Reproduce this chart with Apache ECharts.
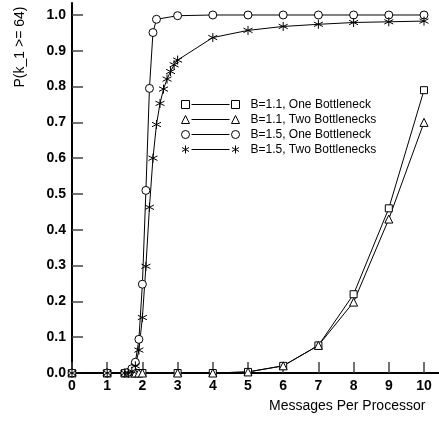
<!DOCTYPE html>
<html>
<head>
<meta charset="utf-8">
<script src="https://cdn.jsdelivr.net/npm/echarts@6/dist/echarts.min.js"></script>
<style>
html,body{margin:0;padding:0;background:#fff;}
#c{width:439px;height:421px;}
</style>
</head>
<body>
<div id="c"></div>
<script>
// ---- data ----
var xTickLabels = [0,1,2,3,4,5,6,7,8,9,10];
var yTickLabels = [0,0.1,0.2,0.3,0.4,0.5,0.6,0.7,0.8,0.9,1.0];

var xB11 = [0,1,1.5,1.7,1.8,1.9,2,3,4,5,6,7,8,9,10];
var yB11One = [0,0,0,0,0,0,0,0,0,0.003,0.02,0.077,0.22,0.46,0.79];
var yB11Two = [0,0,0,0,0,0,0,0,0,0.003,0.02,0.077,0.198,0.43,0.70];

var xB15One = [0,1,1.5,1.6,1.7,1.8,1.9,2.0,2.1,2.2,2.3,2.4,3,4,5,6,7,8,9,10];
var yB15One = [0,0,0,0.002,0.012,0.03,0.094,0.248,0.51,0.795,0.951,0.988,0.998,1.0,1.0,1.0,1.0,1.0,1.0,1.0];

var xB15Two = [0,1,1.5,1.6,1.7,1.8,1.9,2.0,2.1,2.2,2.3,2.4,2.5,2.6,2.7,2.8,2.9,3.0,4,5,6,7,8,9,10];
var yB15Two = [0,0,0,0,0.005,0.02,0.064,0.155,0.298,0.463,0.60,0.694,0.753,0.793,0.821,0.842,0.861,0.874,0.937,0.957,0.968,0.974,0.979,0.981,0.983];

var seriesNames = ['B=1.1, One Bottleneck','B=1.1, Two Bottlenecks','B=1.5, One Bottleneck','B=1.5, Two Bottlenecks'];

function pairs(xs, ys){ return xs.map(function(x,i){ return [x, ys[i]]; }); }

var asteriskSym = 'path://M0,-10L0,10M-8.66,-5L8.66,5M-8.66,5L8.66,-5';

// legend icons: symbol —— symbol
var legendIcons = [
  'path://M0,0L8,0L8,8L0,8ZM10,4L48,4M50,0L58,0L58,8L50,8Z',
  'path://M4,0L8,8L0,8ZM10,4L48,4M54,0L58,8L50,8Z',
  'path://M0,4A4,4 0 1 1 8,4A4,4 0 1 1 0,4ZM10,4L48,4M50,4A4,4 0 1 1 58,4A4,4 0 1 1 50,4Z',
  'path://M4,0L4,8M0.5,2L7.5,6M0.5,6L7.5,2M10,4L48,4M54,0L54,8M50.5,2L57.5,6M50.5,6L57.5,2M0,4L0,4.01M58,4L58,4.01'
];

var symbols = ['rect','triangle','circle', asteriskSym];
var symSizes = [7,8,8,9];
var fills = ['#fff','#fff','#fff','#000'];
var datas = [pairs(xB11,yB11One), pairs(xB11,yB11Two), pairs(xB15One,yB15One), pairs(xB15Two,yB15Two)];

var chart = echarts.init(document.getElementById('c'), null, {renderer:'canvas'});

var series = seriesNames.map(function(n,i){
  return {
    name: n,
    type: 'line',
    data: datas[i],
    symbol: symbols[i],
    symbolSize: symSizes[i],
    showAllSymbol: true,
    clip: false,
    animation: false,
    lineStyle: {color:'#000', width:1},
    itemStyle: {color:fills[i], borderColor:'#000', borderWidth:1}
  };
});

var font = '"Liberation Sans", Arial, Helvetica, sans-serif';

chart.setOption({
  backgroundColor: '#fff',
  animation: false,
  grid: {left:72, right:0, top:3, bottom:48, containLabel:false},
  xAxis: {
    type:'value', min:0, max:10.426, interval:1,
    axisLine:{show:true, onZero:false, lineStyle:{color:'#000', width:2}},
    axisTick:{show:true, inside:true, length:11, lineStyle:{color:'#444', width:1.5}, customValues:xTickLabels},
    axisLabel:{show:true, margin:6, color:'#000', fontFamily:font, fontWeight:'bold', fontSize:14, customValues:xTickLabels,
      formatter:function(v){return String(v);}},
    splitLine:{show:false}
  },
  yAxis: {
    type:'value', min:0, max:1.0335, interval:0.1,
    axisLine:{show:true, onZero:false, lineStyle:{color:'#000', width:2}},
    axisTick:{show:true, inside:true, length:11, lineStyle:{color:'#444', width:1.5}, customValues:yTickLabels},
    axisLabel:{show:true, margin:6, color:'#000', fontFamily:font, fontWeight:'bold', fontSize:14, customValues:yTickLabels,
      formatter:function(v){return v.toFixed(1);}},
    splitLine:{show:false}
  },
  legend: {
    orient:'vertical', left:181, top:97, padding:0, itemGap:0,
    itemWidth:58, itemHeight:8,
    textStyle:{fontFamily:font, fontSize:12, color:'#000', lineHeight:15, padding:[0,0,0,6]},
    data: seriesNames.map(function(n,i){
      return {name:n, icon:legendIcons[i], itemStyle:{color:'rgba(0,0,0,0)', borderColor:'#000', borderWidth:1}};
    }),
    selectedMode:false
  },
  graphic: [
    {type:'text', left:269, top:399, style:{text:'Messages Per Processor', font:'14px ' + font, fill:'#000'}},
    {type:'text', x:20, y:47, rotation:Math.PI/2, style:{text:'P(k_1 >= 64)', font:'14px ' + font, fill:'#000', textAlign:'center', textVerticalAlign:'middle'}}
  ],
  series: series
});
</script>
</body>
</html>
